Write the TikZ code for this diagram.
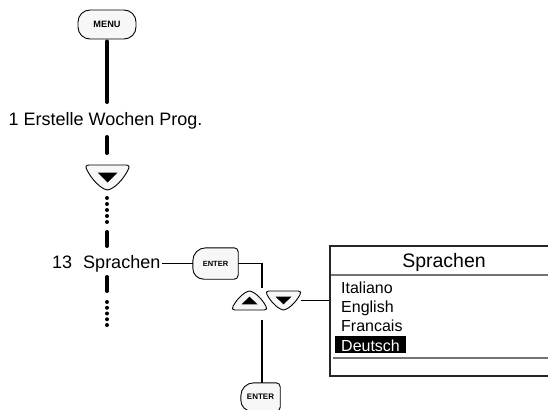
\documentclass[tikz,border=0pt]{standalone}
\usepackage{fontspec}
\setmainfont{Liberation Sans}
\usetikzlibrary{backgrounds}
\tikzset{
  conn/.style={line width=1.2pt, black},
  bar/.style={line width=4pt, line cap=round, black},
  lbl/.style={inner sep=0pt, font=\fontsize{18}{20}\selectfont},
  item/.style={inner sep=0pt, font=\fontsize{16}{18}\selectfont},
  btnframe/.style={draw=black, line width=0.9pt, fill=gray!6},
  keybox/.style={inner sep=0pt, font=\bfseries\fontsize{7.5}{8}\selectfont},
  boxline/.style={line width=1.4pt, draw=black!85},
  sepline/.style={line width=2pt, draw=black!55},
}
\newcommand{\keyframe}[1]{%
\filldraw[btnframe] ([xshift=13pt]#1.north west) -- ([xshift=-4pt]#1.north east)
 .. controls ([xshift=-1.8pt]#1.north east) and ([yshift=-1.8pt]#1.north east) .. ([yshift=-4pt]#1.north east)
 -- ([yshift=4pt]#1.south east)
 .. controls ([yshift=1.8pt]#1.south east) and ([xshift=-1.8pt]#1.south east) .. ([xshift=-4pt]#1.south east)
 -- ([xshift=11pt]#1.south west)
 .. controls ([xshift=4.9pt]#1.south west) and ([yshift=4.9pt]#1.south west) .. ([yshift=11pt]#1.south west)
 -- ([yshift=-13pt]#1.north west)
 .. controls ([yshift=-5.8pt]#1.north west) and ([xshift=5.8pt]#1.north west) .. ([xshift=13pt]#1.north west) -- cycle;}
\newcommand{\arrowkey}[3]{%
\begin{scope}[shift={(#1.center)}, xscale=#2, yscale=#3]
\filldraw[btnframe] (-18.5,-12.5) -- (18.5,-12.5) .. controls (21.5,-12.5) and (22.5,-10.5) .. (20.5,-7.5)
 .. controls (15.5,2.5) and (6.5,11.5) .. (0,12.5)
 .. controls (-6.5,11.5) and (-15.5,2.5) .. (-20.5,-7.5)
 .. controls (-22.5,-10.5) and (-21.5,-12.5) .. (-18.5,-12.5) -- cycle;
\fill (-10,-5) -- (10,-5) -- (0,5) -- cycle;
\end{scope}}
\begin{document}
\begin{tikzpicture}[x=1pt,y=-1pt]
\useasboundingbox (0,0) rectangle (548,409);
% MENU
\node[keybox, font=\bfseries\fontsize{9.2}{10}\selectfont, minimum width=58pt, minimum height=29pt,
      draw, line width=0.9pt, fill=gray!6, rounded corners=12pt] (menu) at (107,24.5) {MENU};
\coordinate (l1) at (107,102);
\draw[bar] ([yshift=-2pt]menu.south) -- (l1);
\node[lbl, anchor=base west] (t1) at (8.5,125) {1 Erstelle Wochen Prog.};
\coordinate (b1a) at (107,137);
\coordinate (b1b) at (107,153);
\draw[bar] (b1a) -- (b1b);
% down key in column
\node[inner sep=0pt, minimum width=43pt, minimum height=25pt] (dn1) at (107.5,177.5) {};
\arrowkey{dn1}{1}{1}
\foreach \yy in {198,204,210,216,222} \fill (107,\yy) circle[radius=2pt];
\coordinate (b2a) at (107,232);
\coordinate (b2b) at (107,246);
\draw[bar] (b2a) -- (b2b);
\node[lbl, anchor=base east] (t13) at (160.5,268) {13\hspace{11pt}Sprachen};
\coordinate (b3a) at (107,277);
\coordinate (b3b) at (107,291);
\draw[bar] (b3a) -- (b3b);
\foreach \yy in {302,307.75,313.5,319.25,325} \fill (107,\yy) circle[radius=2pt];
% ENTER keys
\node[keybox, minimum width=45pt, minimum height=31pt] (enter1) at (215.5,263.5) {ENTER};
\node[keybox, font=\bfseries\fontsize{8}{9}\selectfont, minimum width=39pt, minimum height=28pt] (enter2) at (260.5,397) {ENTER};
\begin{scope}[on background layer]
\keyframe{enter1}
\keyframe{enter2}
\end{scope}
\draw[conn] ([xshift=1pt]t13.east |- enter1.west) -- (enter1.west);
\coordinate (c1) at (262,288);
\draw[conn] (enter1.east) -| (c1);
% up / down keys
\node[inner sep=0pt, minimum width=34pt, minimum height=19pt] (up) at (249.5,300.5) {};
\node[inner sep=0pt, minimum width=34pt, minimum height=19pt] (dn2) at (283.5,300.5) {};
\arrowkey{up}{0.8}{-0.76}
\arrowkey{dn2}{0.8}{0.76}
\coordinate (c2) at (262,320);
\draw[conn] (c2) -- (c2 |- enter2.north);
% display box
\node[boxline, draw, inner sep=0pt, minimum width=220pt, minimum height=130pt] (box) at (440,311) {};
\draw[conn] (dn2.east) -- (dn2.east -| box.west);
\node[inner sep=0pt, anchor=base, font=\fontsize{19.5}{21}\selectfont] (hdr) at (444,267) {Sprachen};
\coordinate (h1) at (331,275);
\draw[sepline] (h1) -- (h1 -| box.east);
\node[item, anchor=base west] (it1) at (341,293) {Italiano};
\node[item, anchor=base west] (it2) at (341,312.3) {English};
\node[item, anchor=base west] (it3) at (341,331.6) {Francais};
\node[item, anchor=base west, fill=black, text=white, inner xsep=6pt, inner ysep=0pt,
      text height=15pt, text depth=2pt] (it4) at (335,351) {Deutsch};
\coordinate (s2) at (333,358);
\draw[sepline] (s2) -- (s2 -| box.east);
\end{tikzpicture}
\end{document}
